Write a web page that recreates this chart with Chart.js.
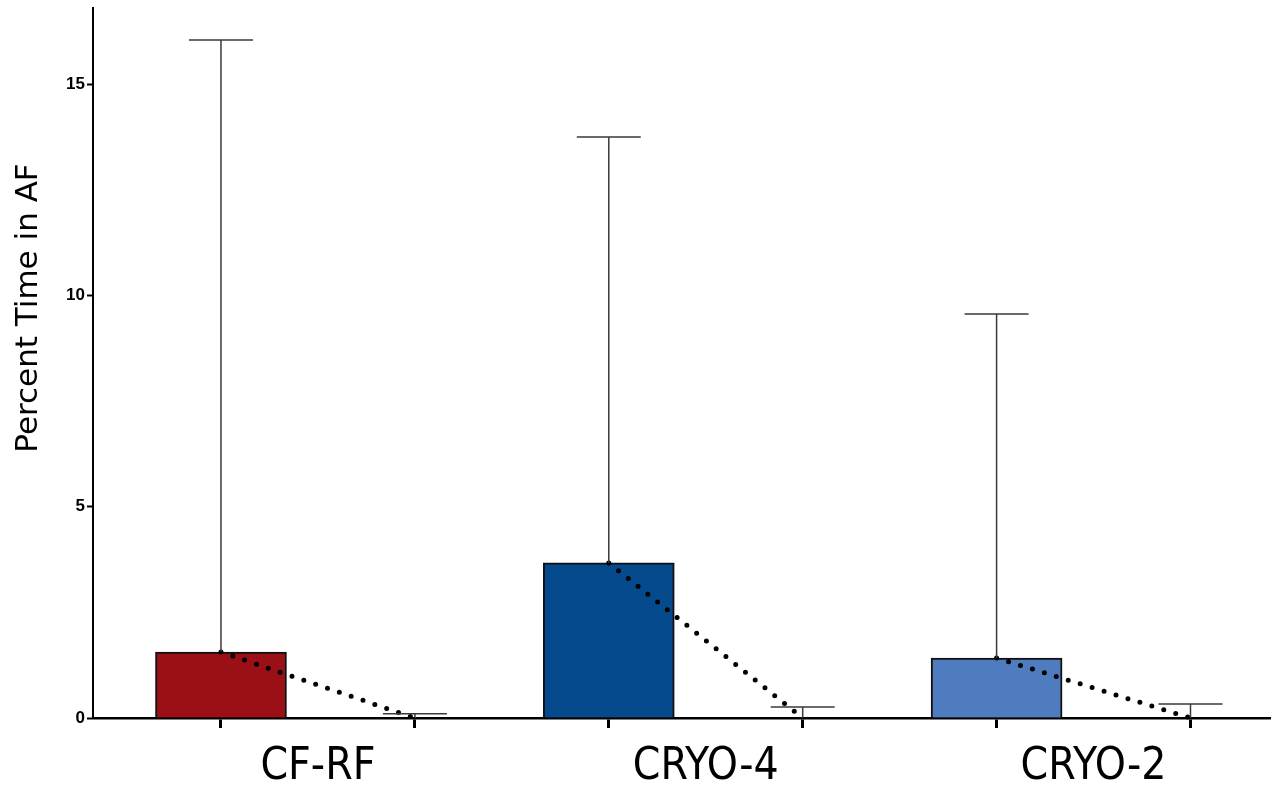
<!DOCTYPE html>
<html>
<head>
<meta charset="utf-8">
<script src="https://cdn.jsdelivr.net/npm/chart.js@4"></script>
<style>
  body { margin: 0; background: #fff; }
  #wrap { width: 1273px; height: 789px; }
</style>
</head>
<body>
<div id="wrap"><canvas id="afChart"></canvas></div>
<script>
const groups = ['CF-RF', 'CRYO-4', 'CRYO-2'];
const barValues = [1.56, 3.67, 1.42];
const barErrorTops = [16.04, 13.75, 9.56];
const endValues = [0, 0, 0];
const endErrorTops = [0.1, 0.26, 0.33];
const barColors = ['#9a1016', '#054a8c', '#4f7bbf'];
const yTicks = [0, 5, 10, 15];
const yTitle = 'Percent Time in AF';

// each group uses two slots on the x axis: the bar and its end point
const slotTicks = [];
groups.forEach((g, i) => slotTicks.push(2 * i, 2 * i + 0.5, 2 * i + 1));
const isLabelTick = v => v % 2 === 0.5;

const errorBars = {
    id: 'errorBars',
    afterDatasetsDraw(chart) {
        const { ctx, scales: { x, y } } = chart;
        ctx.save();
        ctx.strokeStyle = '#3a3a3a';
        ctx.lineWidth = 1.5;
        groups.forEach((g, i) => {
            const pts = [
                [2 * i, barValues[i], barErrorTops[i]],
                [2 * i + 1, endValues[i], endErrorTops[i]]
            ];
            pts.forEach(([pos, v, top]) => {
                const px = x.getPixelForValue(pos);
                const y0 = y.getPixelForValue(v);
                const y1 = y.getPixelForValue(top);
                ctx.beginPath();
                ctx.moveTo(px, y0);
                ctx.lineTo(px, y1);
                ctx.moveTo(px - 32, y1);
                ctx.lineTo(px + 32, y1);
                ctx.stroke();
            });
        });
        ctx.restore();
    }
};

// y title sits above the middle of the axis in the original, so draw it here
const sideTitle = {
    id: 'sideTitle',
    afterDraw(chart) {
        const { ctx } = chart;
        ctx.save();
        ctx.translate(29, 308);
        ctx.rotate(-Math.PI / 2);
        ctx.font = '31px "DejaVu Sans", Arial, sans-serif';
        ctx.fillStyle = '#000';
        ctx.textAlign = 'center';
        ctx.textBaseline = 'middle';
        ctx.fillText(yTitle, 0, 0);
        ctx.restore();
    }
};

const dotLines = groups.map((g, i) => ({
    type: 'line',
    data: [{ x: 2 * i, y: barValues[i] }, { x: 2 * i + 1, y: endValues[i] }],
    borderColor: '#000',
    borderWidth: 5,
    borderDash: [0, 12.5],
    borderCapStyle: 'round',
    pointRadius: 0,
    clip: false,
    order: 0
}));

const ctx = document.getElementById('afChart').getContext('2d');
new Chart(ctx, {
    type: 'bar',
    data: {
        datasets: [{
            data: barValues.map((v, i) => ({ x: 2 * i, y: v })),
            backgroundColor: barColors,
            borderColor: '#111',
            borderWidth: 2,
            barThickness: 131,
            order: 1
        }, ...dotLines]
    },
    options: {
        responsive: true,
        maintainAspectRatio: false,
        animation: false,
        layout: { padding: { top: 0, right: 3, left: 0, bottom: 0 } },
        plugins: {
            legend: { display: false },
            tooltip: { enabled: false }
        },
        scales: {
            x: {
                type: 'linear',
                min: -0.66,
                max: 5.41,
                offset: false,
                afterFit: s => { s.height = 71; },
                afterBuildTicks: s => { s.ticks = slotTicks.map(v => ({ value: v })); },
                border: { display: true, color: '#000', width: 2.5 },
                grid: {
                    offset: false,
                    drawOnChartArea: false,
                    drawTicks: true,
                    tickLength: 10,
                    tickWidth: 3,
                    tickColor: c => isLabelTick(c.tick.value) ? 'rgba(0,0,0,0)' : '#000'
                },
                ticks: {
                    autoSkip: false,
                    maxRotation: 0,
                    padding: 13,
                    color: '#000',
                    font: { family: "'DejaVu Sans Condensed', 'Liberation Sans Narrow', Arial, sans-serif", size: 44 },
                    callback: v => isLabelTick(v) ? groups[Math.floor(v / 2)] : ''
                }
            },
            y: {
                min: 0,
                max: 16.8,
                afterFit: s => {
                    s.width = 93;
                    s.paddingTop = 8;
                    s.paddingBottom = 0;
                },
                afterBuildTicks: s => { s.ticks = yTicks.map(v => ({ value: v })); },
                border: { display: true, color: '#000', width: 2 },
                grid: {
                    drawOnChartArea: false,
                    drawTicks: true,
                    tickLength: 6,
                    tickWidth: 2,
                    tickColor: '#000'
                },
                ticks: {
                    padding: 2,
                    color: '#000',
                    font: { family: 'Arial, sans-serif', size: 17, weight: 'bold' }
                }
            }
        }
    },
    plugins: [errorBars, sideTitle]
});
</script>
</body>
</html>
